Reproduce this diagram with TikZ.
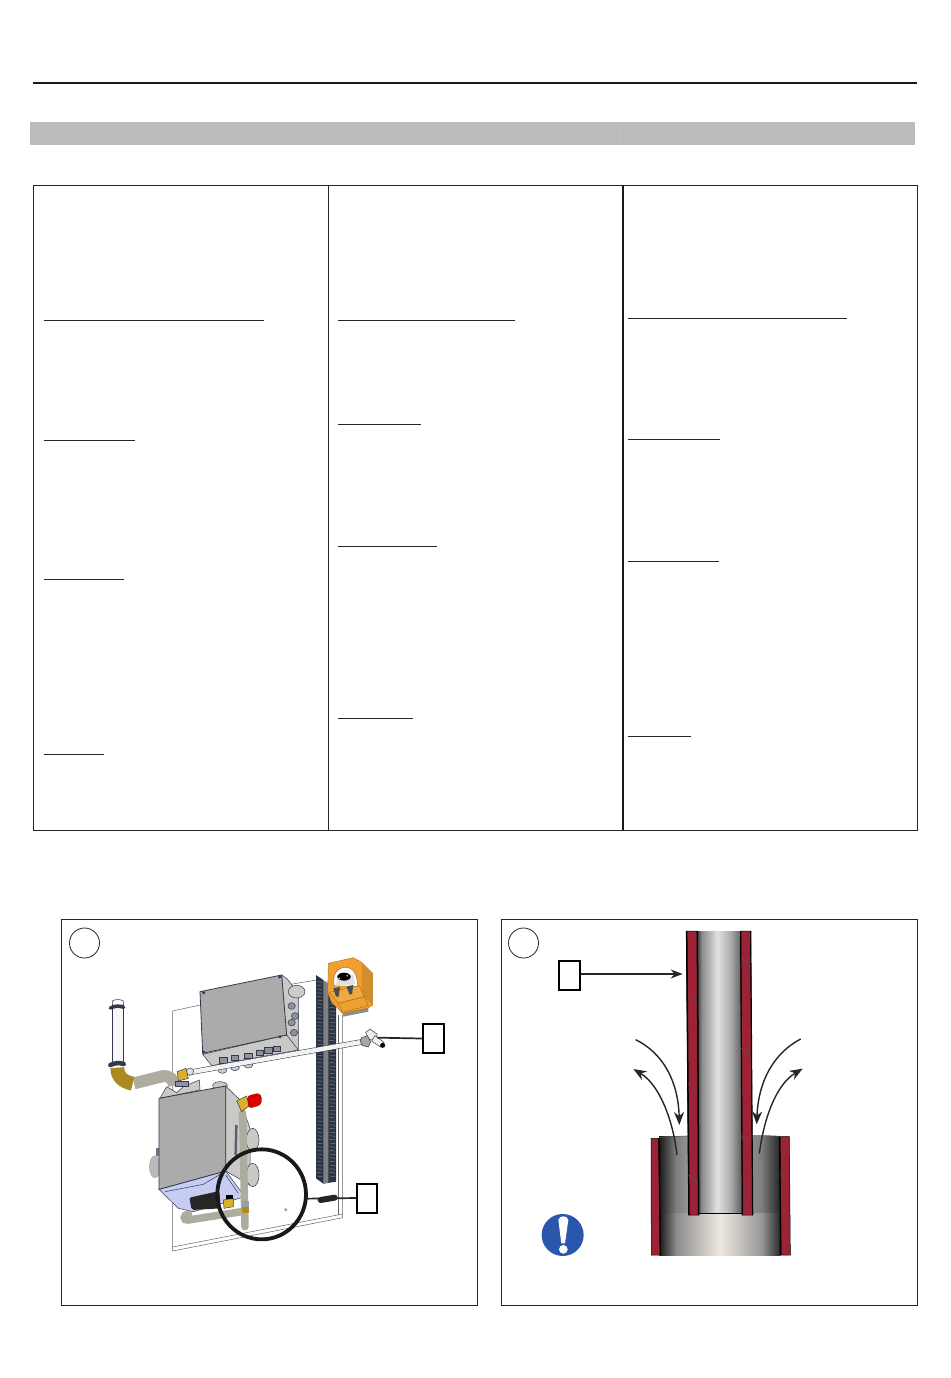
\documentclass[tikz,border=0pt]{standalone}
\usepackage{tikz}
\usetikzlibrary{arrows.meta, calc}
\definecolor{pipered}{HTML}{9B2335}
\definecolor{barhead}{HTML}{BBBBBB}
\definecolor{boxgray}{HTML}{ABABAB}
\definecolor{sidegray}{HTML}{C9C9C6}
\definecolor{pumporange}{HTML}{F0A030}
\definecolor{brass}{HTML}{D9B02C}
\definecolor{elbowbrass}{HTML}{A88A20}
\definecolor{railblue}{HTML}{2B3444}
\definecolor{edgeblue}{HTML}{34384F}
\definecolor{wedgeblue}{HTML}{C6CCF2}
\definecolor{hosegray}{HTML}{ADAC9E}
\definecolor{noteblue}{HTML}{2A57AD}
\pgfdeclarehorizontalshading{innerpipe}{100bp}{color(0bp)=(black!75); color(25bp)=(black!75); color(30bp)=(black!45); color(47bp)=(black!12); color(55bp)=(black!22); color(63bp)=(black!35); color(75bp)=(black!65); color(100bp)=(black!65)}
\pgfdeclarehorizontalshading{outertop}{100bp}{color(0bp)=(black!90); color(25bp)=(black!90); color(32bp)=(black!50); color(42bp)=(black!33); color(58bp)=(black!40); color(67bp)=(black!50); color(75bp)=(black!85); color(100bp)=(black!85)}
\definecolor{paleend}{HTML}{EEE8E0}
\pgfdeclarehorizontalshading{outerlow}{100bp}{color(0bp)=(black!90); color(25bp)=(black!90); color(32bp)=(black!45); color(50bp)=(paleend); color(67bp)=(black!40); color(75bp)=(black!85); color(100bp)=(black!85)}
\tikzset{
    rulethin/.style={line width=1pt, black!85},
    panelbox/.style={draw=black!85, line width=1pt},
    callout/.style={draw=black, line width=2pt, fill=white, minimum width=21pt, minimum height=29pt, inner sep=0pt},
    marker/.style={draw=black!85, line width=0.8pt, circle, minimum size=30pt, inner sep=0pt},
    leader/.style={draw=black!85, line width=1.7pt},
    flowarrow/.style={draw=black!85, line width=1.4pt, -{Stealth[length=13pt,width=10pt]}},
    partedge/.style={draw=edgeblue, line width=0.5pt},
    plate/.style={draw=black!60, line width=0.5pt},
    hose/.style={line cap=round, line width=7.5pt, hosegray},
    gland/.style={fill=edgeblue!55, draw=edgeblue, line width=0.5pt},
}
\begin{document}
\begin{tikzpicture}[x=1pt,y=-1pt]
    \useasboundingbox (0,0) rectangle (950,1378);
    \fill[white] (0,0) rectangle (950,1378);

    % top rule and head bar
    \draw[line width=2pt, black!90] (33,83) -- (917,83);
    \fill[barhead] (30,122) rectangle (915,145);
    \draw[black!12!barhead!70!white, line width=0.8pt] (325,122) -- (325,145);
    \draw[black!12!barhead!70!white, line width=0.8pt] (620,122) -- (620,145);

    % table
    \draw[panelbox] (33,185) rectangle (917,830);
    \draw[panelbox] (328,185) -- (328,830);
    \draw[line width=2pt, black!90] (622.5,185) -- (622.5,830);
    \foreach \xa/\xb/\yy in {44/264/320, 44/135/440, 44/124/579, 44/104/754,
                             338/515/320, 338/421/424, 338/437/546, 338/413/718,
                             628/847/318, 628/720/439, 628/719/561, 628/691/736}
        \draw[rulethin] (\xa,\yy) -- (\xb,\yy);

    % left panel
    \draw[panelbox] (61,919.5) rectangle (477,1305);
    \node[marker] (markL) at (84.5,943) {};
    \begin{scope}[shift={(60,915)}, scale=1/3]
        % back plate
        \draw[plate] (338,288) -- (420,270);
        \draw[plate] (338,288) -- (338,1008) -- (848,908) -- (848,300);
        \draw[plate] (338,996) -- (848,897);
        \draw[plate] (836,300) -- (836,900);
        \draw[plate] (680,210) -- (770,195);
        % rail
        \fill[railblue] (768,180) -- (790,195) -- (828,265) -- (828,800) -- (790,806) -- (768,790) -- cycle;
        \fill[black!50] (790,195) -- (805,205) -- (805,803) -- (790,806) -- cycle;
        \foreach \yy in {200,211,...,785} {
            \draw[black!45, line width=0.4pt] (772,\yy) -- (786,\yy+2);
            \draw[black!45, line width=0.4pt] (809,\yy) -- (825,\yy+2);
        }
        % pump
        \fill[black!45] (845,280) -- (925,265) -- (925,290) -- (850,305) -- cycle;
        \filldraw[fill=pumporange, draw=pumporange!70!black, line width=0.4pt]
            (805,145) -- (880,128) -- (905,142) -- (938,175) -- (938,270) -- (922,280) -- (848,295) -- (815,262) -- (803,232) -- cycle;
        \fill[pumporange!88!black] (905,142) -- (938,175) -- (938,270) -- (905,240) -- cycle;
        \filldraw[fill=white, draw=pumporange!60!black, line width=0.4pt]
            (822,212) .. controls (817,172) and (835,157) .. (858,157) .. controls (878,157) and (892,175) .. (893,215) -- cycle;
        \filldraw[fill=black!12, draw=none] (828,212) -- (885,208) -- (880,180) -- (832,185) -- cycle;
        \fill[black] (852,185) ellipse (20 and 12);
        \fill[brass!80!white] (838,190) circle (3) (862,182) circle (3);
        \filldraw[fill=pumporange!92!white, draw=pumporange!60!black, line width=0.3pt] (808,232) -- (898,212) -- (912,245) -- (835,265) -- cycle;
        \filldraw[fill=pumporange, draw=pumporange!60!black, line width=0.3pt] (835,265) -- (912,245) -- (925,272) -- (848,292) -- cycle;
        \fill[black!70] (820,220) -- (840,216) -- (836,245) -- (828,245) -- cycle;
        \fill[black!70] (860,214) -- (880,210) -- (876,238) -- (868,238) -- cycle;
        % junction box
        \filldraw[fill=sidegray, partedge] (665,180) -- (682,192) -- (715,235) -- (715,405) -- (680,405) -- cycle;
        \filldraw[fill=sidegray, partedge] (428,418) -- (680,360) -- (715,405) -- (455,452) -- cycle;
        \filldraw[fill=boxgray, partedge, line width=0.8pt] (420,230) -- (665,180) -- (680,360) -- (428,415) -- cycle;
        \foreach \xx/\yy in {431/233, 659/186, 660/365, 431/411}
            \fill[edgeblue] (\xx,\yy) circle (5);
        \foreach \xx/\yy in {487/466, 525/458, 565/450}
            \filldraw[fill=black!20, partedge] (\xx,\yy) ellipse (13 and 9);
        \foreach \xx/\yy in {490/435, 525/428, 565/422, 600/412, 625/405, 650/400}
            \filldraw[gland] (\xx-11,\yy-7) rectangle (\xx+11,\yy+9);
        \filldraw[fill=black!20, partedge] (710,230) ellipse (25 and 19);
        \foreach \yy/\xx in {273/695, 303/705, 323/695, 353/702}
            \filldraw[gland] (\xx,\yy) ellipse (11 and 10);
        % tube with fitting
        \draw[line width=5.5pt, edgeblue] (390,472) -- (910,380);
        \draw[line width=4.5pt, black!5] (390,472) -- (910,380);
        \filldraw[fill=black!12, partedge] (390,470) circle (11);
        \filldraw[fill=black!8, partedge] (917,352) -- (930,342) -- (952,358) -- (945,378) -- (925,372) -- cycle;
        \filldraw[fill=black!35, partedge] (905,368) -- (922,362) -- (932,380) -- (925,396) -- (908,392) -- (900,378) -- cycle;
        \filldraw[fill=black!6, partedge] (945,362) -- (972,382) -- (962,396) -- (935,378) -- cycle;
        \fill[black] (968,391) circle (7.5);
        \coordinate (nozzleA) at (952,368);
        % left pipe
        \filldraw[fill=black!3, partedge] (157,268) rectangle (190,445);
        \filldraw[fill=black!2, partedge] (157,258) .. controls (165,252) and (183,252) .. (190,258) -- (190,270) -- (157,270) -- cycle;
        \draw[line width=3.5pt, edgeblue, line cap=round] (151,279) .. controls (165,272) and (180,272) .. (191,277);
        \draw[line width=4.5pt, edgeblue, line cap=round] (151,450) .. controls (165,443) and (180,443) .. (191,447);
        \draw[line width=12pt, hosegray] (222,505) -- (310,483);
        \draw[line width=12pt, hosegray] (305,484) .. controls (330,480) and (342,495) .. (342,512);
        \draw[line width=14pt, elbowbrass] (172,458) .. controls (172,485) and (188,500) .. (218,506);
        \filldraw[fill=brass, partedge] (352,470) -- (378,460) -- (385,490) -- (355,498) -- cycle;
        % tank
        \filldraw[fill=black!27, draw=black!40, line width=0.3pt] (285,755) ellipse (17 and 33);
        \fill[edgeblue!70] (288,700) rectangle (298,722);
        \filldraw[fill=sidegray, partedge] (300,550) -- (320,515) -- (350,533) -- (370,515) -- (418,495) -- (420,525) -- cycle;
        \filldraw[fill=sidegray, partedge] (480,512) ellipse (22 and 12);
        \filldraw[fill=edgeblue!55, partedge] (345,500) rectangle (385,515);
        \filldraw[fill=sidegray, partedge] (497,513) -- (540,555) -- (570,640) -- (570,810) -- (497,768) -- cycle;
        \filldraw[fill=sidegray, partedge] (578,675) ellipse (19 and 35);
        \filldraw[fill=sidegray, partedge] (578,780) ellipse (19 and 35);
        \filldraw[fill=wedgeblue, partedge] (297,823) -- (497,768) -- (555,845) -- (400,890) -- (355,880) -- cycle;
        \draw[edgeblue, line width=0.5pt] (315,830) -- (430,808) -- (497,768) (497,780) -- (535,835);
        \filldraw[fill=boxgray, partedge, line width=0.8pt] (297,550) -- (497,513) -- (497,768) -- (297,823) -- cycle;
        \draw[hose] (545,890) -- (385,915) .. controls (368,918) and (370,898) .. (385,897);
        \fill[black!85, rounded corners=2pt] (388,848) -- (478,828) -- (482,880) -- (395,885) -- cycle;
        \filldraw[fill=brass, partedge] (490,855) -- (520,850) -- (520,875) -- (492,880) -- cycle;
        \fill[black] (498,840) rectangle (520,852);
        \draw[hose] (548,595) -- (555,935);
        \fill[edgeblue!50] (545,858) rectangle (566,875);
        \fill[brass!80!black] (545,875) rectangle (566,895);
        \filldraw[fill=brass, partedge] (530,558) -- (560,543) -- (568,572) -- (545,590) -- cycle;
        \filldraw[fill=red!85!black, draw=red!60!black, line width=0.3pt, rounded corners=3pt] (562,543) -- (598,534) -- (606,550) -- (602,570) -- (566,580) -- cycle;
        \draw[line width=2.5pt, edgeblue!80] (529,630) -- (527,720);
        % big ring
        \draw[line width=3.8pt, black!90] (605,838) ellipse (133 and 135);
        \draw[black!60, line width=0.4pt] (677,884) circle (3.5);
        % hose end
        \draw[line width=6pt, black!85, line cap=round] (782,855) -- (824,848);
        \coordinate (hoseB) at (740,851);
    \end{scope}
    \node[callout, minimum width=21.5pt] (boxA) at (433.5,1038.5) {};
    \node[callout, minimum width=20pt] (boxB) at (367,1198) {};
    \draw[leader] (boxA.west) -- (nozzleA);
    \draw[leader] (boxB.west) -- (hoseB);

    % right panel
    \draw[panelbox] (501,919.5) rectangle (917,1305);
    \node[marker] (markR) at (523.5,943) {};
    \begin{scope}[shift={(500,915)}, scale=1/3]
        % outer pipe
        \fill[shading=outertop] (478,664) rectangle (840,900);
        \fill[shading=outerlow] (478,895) rectangle (842,1020);
        \filldraw[fill=pipered, draw=black, line width=0.5pt] (453,670) -- (476,670) -- (481,1020) -- (454,1020) -- cycle;
        \filldraw[fill=pipered, draw=black, line width=0.5pt] (840,665) -- (868,665) -- (871,1020) -- (843,1020) -- cycle;
        \draw[black, line width=1.4pt] (477,670) -- (481,1020) (839,665) -- (842,1020);
        \draw[black!70, line width=0.5pt] (478,668) .. controls (540,660) and (780,658) .. (840,664);
        % inner pipe
        \fill[shading=innerpipe] (592,48) -- (723,48) -- (727,895) -- (595,895) -- cycle;
        \draw[black, line width=0.6pt] (595,895) -- (727,895);
        \filldraw[fill=pipered, draw=black, line width=0.5pt] (559,48) -- (592,48) -- (596,900) -- (566,900) -- cycle;
        \filldraw[fill=pipered, draw=black, line width=0.5pt] (722,48) -- (752,48) -- (758,900) -- (727,900) -- cycle;
        \draw[black, line width=1.5pt] (560,48) -- (567,900) (592,48) -- (596,900);
        \draw[black, line width=1.2pt] (722,48) -- (727,900) (752,48) -- (758,900);
        % hatch marks on the walls
        \foreach \yy in {240,505,780}
            \draw[black!65, line width=0.4pt] (565,\yy) -- (592,\yy+25);
        \foreach \yy in {130,400,665}
            \draw[black!65, line width=0.4pt] (724,\yy) -- (752,\yy+25);
        \draw[black!65, line width=0.4pt] (455,925) -- (478,945) (842,775) -- (866,800);
        % flow arrows
        \coordinate (inLa) at (407,374);
        \coordinate (inLb) at (538,630);
        \coordinate (outLa) at (531,720);
        \coordinate (outLb) at (400,462);
        \coordinate (inRa) at (902,372);
        \coordinate (inRb) at (770,628);
        \coordinate (outRa) at (778,716);
        \coordinate (outRb) at (908,461);
        \draw[flowarrow] (inLa) .. controls (490,415) and (535,500) .. (inLb);
        \draw[flowarrow] (outLa) .. controls (520,620) and (480,510) .. (outLb);
        \draw[flowarrow] (inRa) .. controls (820,415) and (775,500) .. (inRb);
        \draw[flowarrow] (outRa) .. controls (790,620) and (825,510) .. (outRb);
        \coordinate (wallR) at (548,177);
        % note sign
        \fill[noteblue] (188,960) circle (63);
        \fill[white] (175,915) .. controls (178,900) and (202,900) .. (205,915) -- (195,985) -- (184,985) -- cycle;
        \fill[white] (190,1003) circle (13);
    \end{scope}
    \node[callout, minimum width=21pt] (boxC) at (569,975.5) {};
    \draw[line width=1.7pt, black!85, -{Stealth[length=12pt,width=9pt]}] (boxC.east |- wallR) -- (wallR);
\end{tikzpicture}
\end{document}
